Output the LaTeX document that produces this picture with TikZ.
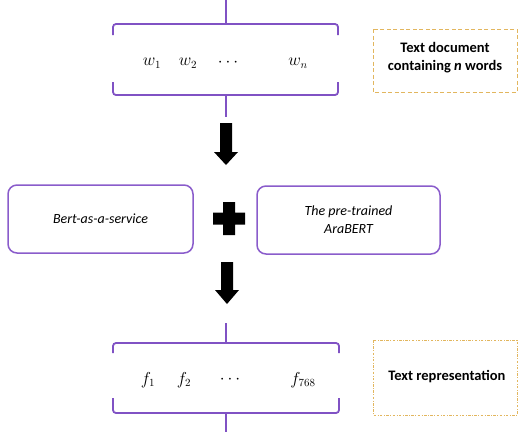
\documentclass[tikz,border=0pt]{standalone}
\usepackage{fontspec}
\setmainfont{Carlito}
\begin{document}
\begin{tikzpicture}[x=1pt,y=-1pt,
  brk/.style={draw=brkpurple,line width=1.8pt,rounded corners=3pt},
  tick/.style={draw=brkpurple,line width=1.8pt},
  rbox/.style={draw=boxpurple,line width=1.5pt,rounded corners=9pt},
  lblbox/.style={draw=gold,line width=1pt},
  lbl/.style={font=\fontsize{14.5}{18}\selectfont\bfseries,align=center},
  itx/.style={font=\fontsize{14}{18}\selectfont\itshape,align=center},
  mth/.style={font=\fontsize{16}{19}\selectfont},
  blockarrow/.style={fill=black}]
\definecolor{brkpurple}{HTML}{8052C4}
\definecolor{boxpurple}{HTML}{8A5CCB}
\definecolor{gold}{HTML}{E2B65E}
\useasboundingbox (0,0) rectangle (518,432);
% top bracket group
\coordinate (t0) at (226,0);
\coordinate (t1) at (226,24);
\draw[tick] (t0) -- (t1);
\draw[brk] (113,35) -- (113,24) -- (338,24) -- (338,35);
\draw[brk] (113,82) -- (113,95) -- (338,95) -- (338,82);
\coordinate (t2) at (226,95);
\coordinate (t3) at (226,117);
\draw[tick] (t2) -- (t3);
\node[mth] (w1) at (152,63) {$w_1$};
\node[mth] (w2) at (188,63) {$w_2$};
\node[mth] (wd) at (228,63) {$\cdots$};
\node[mth] (wn) at (298,63) {$w_n$};
\draw[lblbox,dashed,dash pattern=on 4pt off 2.5pt] (373,29) rectangle (517,92);
\node[lbl] (doc) at (445,57.5) {Text document\\containing \textit{n} words};
% arrow 1
\fill[blockarrow] (220,123) -- (232,123) -- (232,152) -- (238,152) -- (226,165) -- (214,152) -- (220,152) -- cycle;
% middle boxes
\node[rbox,minimum width=185pt,minimum height=68pt,itx] (bert) at (100.5,219) {Bert-as-a-service};
\node[rbox,minimum width=183pt,minimum height=68pt,itx] (ara) at (348.5,220) {The pre-trained\\AraBERT};
\fill[blockarrow] (223,202) -- (235,202) -- (235,212.5) -- (245,212.5) -- (245,224.5) -- (235,224.5) -- (235,235) -- (223,235) -- (223,224.5) -- (213,224.5) -- (213,212.5) -- (223,212.5) -- cycle;
% arrow 2
\fill[blockarrow] (221,262) -- (233,262) -- (233,290) -- (239,290) -- (227,304) -- (215,290) -- (221,290) -- cycle;
% bottom bracket group
\coordinate (b0) at (226,323);
\coordinate (b1) at (226,343);
\draw[tick] (b0) -- (b1);
\draw[brk] (113,353) -- (113,343) -- (339,343) -- (339,353);
\draw[brk] (113,398) -- (113,413) -- (339,413) -- (339,398);
\coordinate (b2) at (226,413);
\coordinate (b3) at (226,432);
\draw[tick] (b2) -- (b3);
\node[mth] (f1) at (148,380) {$f_1$};
\node[mth] (f2) at (184,380) {$f_2$};
\node[mth] (fd) at (230,380) {$\cdots$};
\node[mth] (fn) at (303,380) {$f_{768}$};
\draw[lblbox,dash pattern=on 2.5pt off 1.5pt on 0.8pt off 1.5pt] (373,340) rectangle (517,415);
\node[lbl] (rep) at (447,377) {Text representation};
\end{tikzpicture}
\end{document}
